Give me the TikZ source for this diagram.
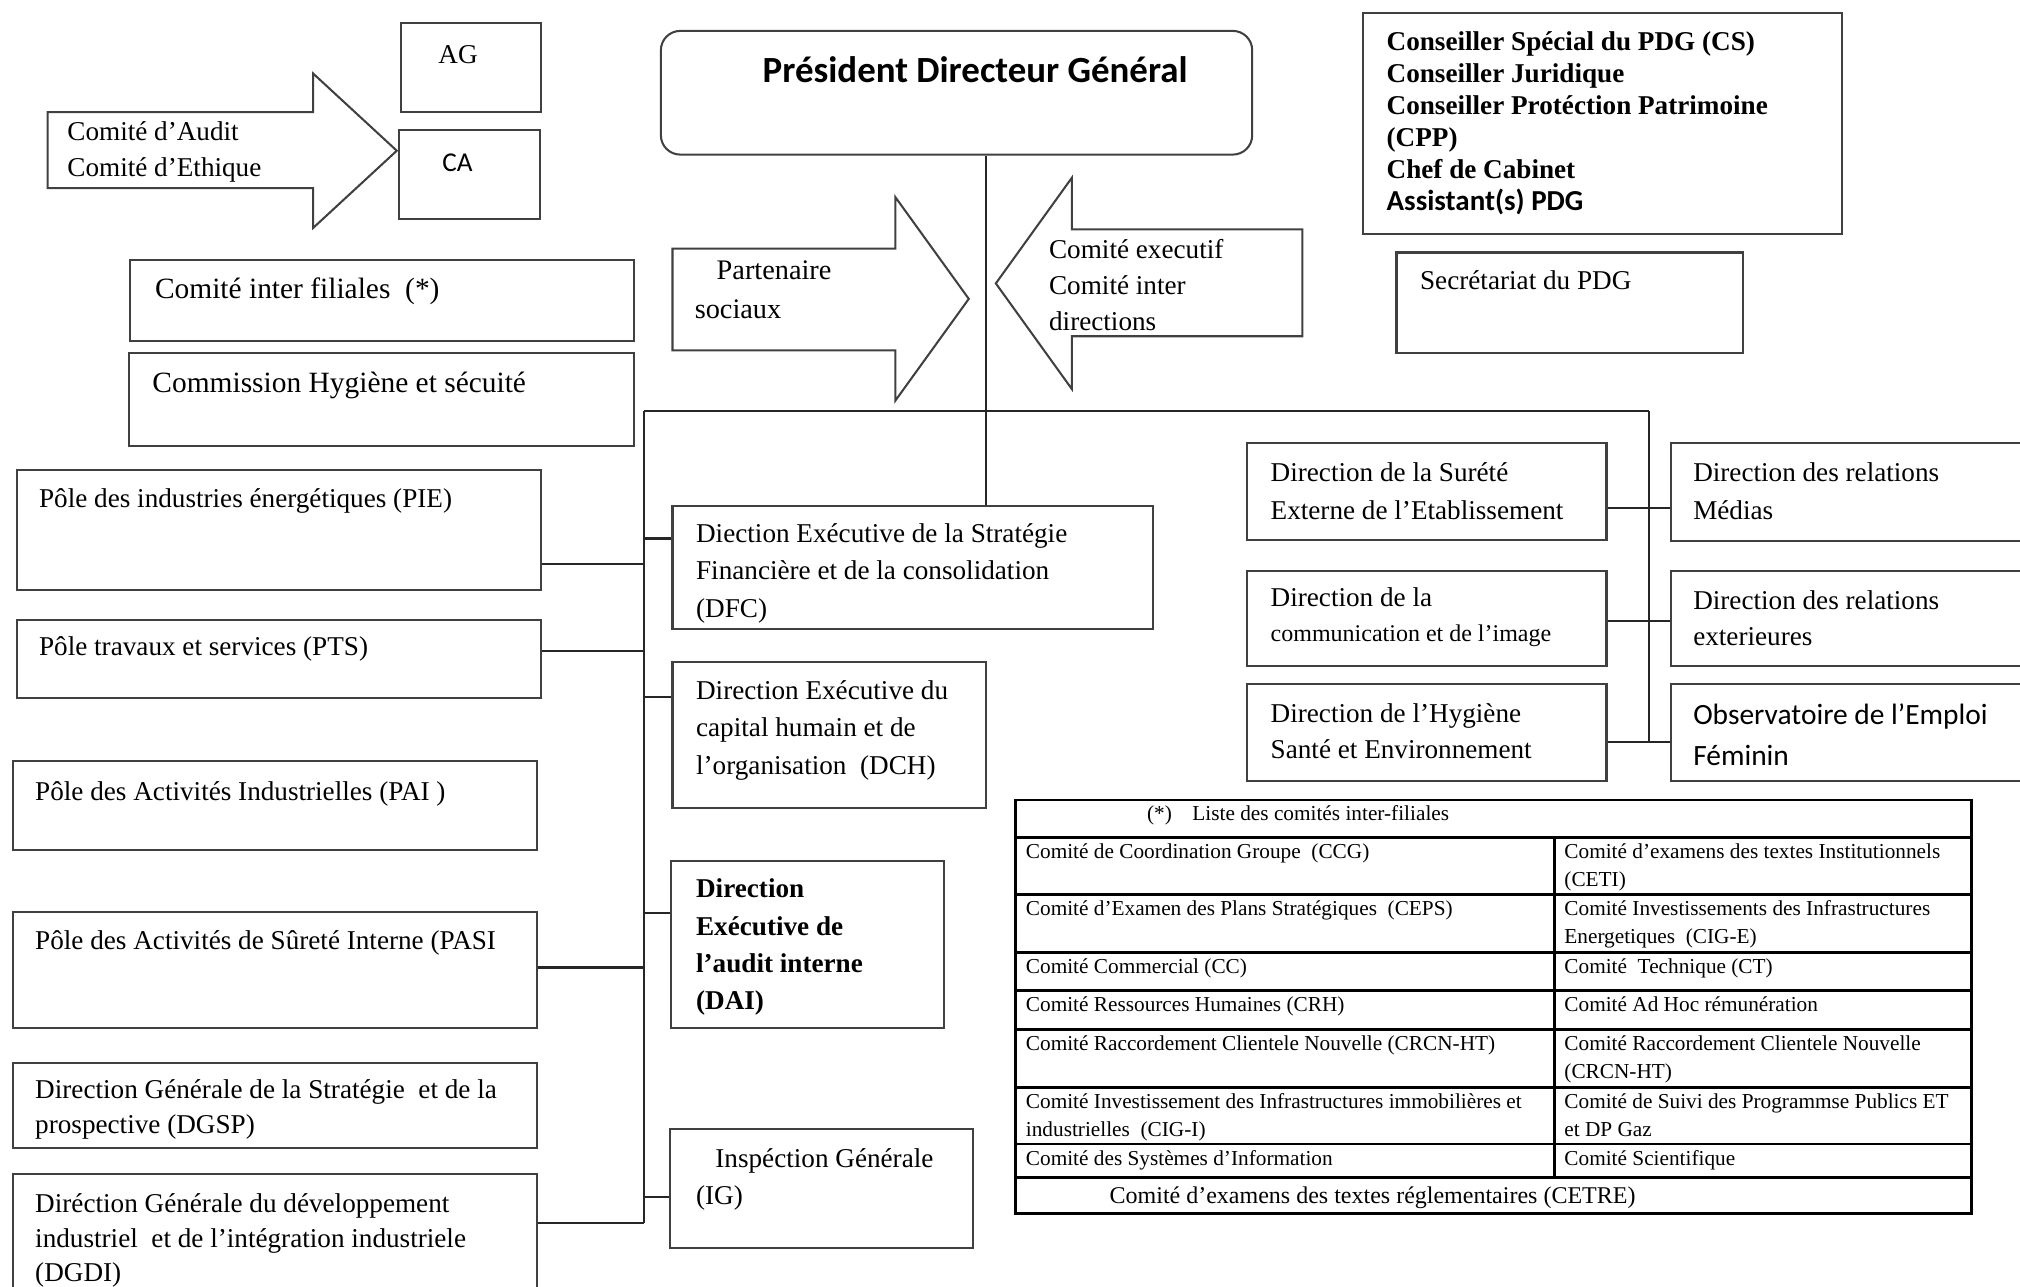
\documentclass[tikz,border=0pt]{standalone}
\usepackage{fontspec}
\setmainfont{Liberation Serif}
\newfontfamily\calib{Carlito}
\usetikzlibrary{fit}
\colorlet{boxgray}{black!75}
\colorlet{linkgray}{black!85}
\newcommand\lines[1]{\begin{tabular}[t]{@{}l@{}}#1\end{tabular}}

\tikzset{
  orgbox/.style={draw=boxgray, line width=0.9pt, inner sep=0pt},
  bigarrow/.style={draw=boxgray, line width=0.9pt},
  txt/.style={inner sep=0pt, anchor=base west, font=\fontsize{12}{16.5}\selectfont},
  link/.style={draw=linkgray, line width=0.9pt},
  tabline/.style={draw=black, line width=1.3pt},
  cell/.style={inner sep=0pt, anchor=base west, font=\fontsize{9.4}{12.5}\selectfont},
}

\begin{document}
\begin{tikzpicture}[x=0.2mm, y=-0.2mm]
\useasboundingbox (0,0) rectangle (1568,999);

% AG, CA and the audit committees
\node[orgbox, fit={(311,18)(420,87)}] (ag) {};
\node[txt] (ag-t) at (340,49) {AG};
\node[orgbox, fit={(310,101)(419,170)}] (ca) {};
\node[txt, font=\calib\fontsize{12}{14}\selectfont] (ca-t) at (343,133) {CA};
\draw[bigarrow] (37,87) -- (243,87) -- (243,57) -- (308,117) -- (243,177) -- (243,146) -- (37,146) -- cycle;
\node[txt, font=\fontsize{12}{15.9}\selectfont] (audit-t) at (52,109) {\lines{Comité d’Audit\\Comité d’Ethique}};

\node[orgbox, fit={(101,202)(492,265)}] (cif) {};
\node[txt, font=\fontsize{13}{16}\selectfont] (cif-t) at (120,232) {Comité inter filiales\ \ (*)};
\node[orgbox, fit={(100,274)(492,346)}] (chs) {};
\node[txt, font=\fontsize{13}{16}\selectfont] (chs-t) at (118,305) {Commission Hygiène et sécuité};

% PDG and his staff
\node[orgbox, rounded corners=3mm, fit={(513,24)(972,120)}] (pdg) {};
\node[txt, anchor=base, font=\calib\bfseries\fontsize{16.3}{20}\selectfont] (pdg-t) at (757,64) {Président Directeur Général};

\node[orgbox, fit={(1058,10)(1430,182)}] (cons) {};
\node[txt, font=\bfseries\fontsize{12}{14.2}\selectfont] (cons-t) at (1076,39)
  {\lines{Conseiller Spécial du PDG (CS)\\Conseiller Juridique\\Conseiller Protéction Patrimoine\\(CPP)\\Chef de Cabinet\\{\calib\fontsize{12.8}{14.2}\selectfont Assistant(s) PDG}}};
\node[orgbox, fit={(1084,196)(1353,274)}] (secr) {};
\node[txt] (secr-t) at (1102,225) {Secrétariat du PDG};

% arrows on both sides of the PDG line
\draw[bigarrow] (522,193) -- (695,193) -- (695,153) -- (752,232) -- (695,311) -- (695,272) -- (522,272) -- cycle;
\node[txt, font=\fontsize{12.5}{17}\selectfont] (part-t) at (539,217) {\lines{\hspace{3.4mm}Partenaire\\sociaux}};
\draw[bigarrow] (1011,178) -- (832,178) -- (832,138) -- (773,220) -- (832,302) -- (832,261) -- (1011,261) -- cycle;
\node[txt, font=\fontsize{12}{15.9}\selectfont] (comex-t) at (814,201) {\lines{Comité executif\\Comité inter\\directions}};

% executive directions
\node[orgbox, fit={(522,393)(895,488)}] (dfc) {};
\node[txt] (dfc-t) at (540,421) {\lines{Diection Exécutive de la Stratégie\\Financière et de la consolidation\\(DFC)}};
\node[orgbox, fit={(522,514)(765,627)}] (dch) {};
\node[txt] (dch-t) at (540,543) {\lines{Direction Exécutive du\\capital humain et de\\l’organisation\ \ (DCH)}};
\node[orgbox, fit={(521,668)(733,798)}] (dai) {};
\node[txt, font=\bfseries\fontsize{12}{16.5}\selectfont] (dai-t) at (540,697) {\lines{Direction\\Exécutive de\\l’audit interne\\(DAI)}};
\node[orgbox, fit={(520,876)(755,969)}] (ig) {};
\node[txt] (ig-t) at (540,906) {\lines{\hspace{3mm}Inspéction Générale\\(IG)}};

% poles and general directions
\node[orgbox, fit={(13,365)(420,458)}] (pie) {};
\node[txt] (pie-t) at (30,394) {Pôle des industries énergétiques (PIE)};
\node[orgbox, fit={(13,481)(420,542)}] (pts) {};
\node[txt] (pts-t) at (30,509) {Pôle travaux et services (PTS)};
\node[orgbox, fit={(10,591)(417,660)}] (pai) {};
\node[txt] (pai-t) at (27,621) {Pôle des Activités Industrielles (PAI )};
\node[orgbox, fit={(10,708)(417,798)}] (pasi) {};
\node[txt] (pasi-t) at (27,737) {Pôle des Activités de Sûreté Interne (PASI};
\node[orgbox, fit={(10,825)(417,891)}] (dgsp) {};
\node[txt, font=\fontsize{12}{15.4}\selectfont] (dgsp-t) at (27,853) {\lines{Direction Générale de la Stratégie\ \ et de la\\prospective (DGSP)}};
\node[orgbox, fit={(10,911)(417,1010)}] (dgdi) {};
\node[txt, font=\fontsize{12}{15.4}\selectfont] (dgdi-t) at (27,941) {\lines{Diréction Générale du développement\\industriel\ \ et de l’intégration industriele\\(DGDI)}};

% directions on the right
\node[orgbox, fit={(968,344)(1247,419)}] (dse) {};
\node[txt] (dse-t) at (986,374) {\lines{Direction de la Surété\\Externe de l’Etablissement}};
\node[orgbox, fit={(968,443)(1247,517)}] (dci) {};
\node[txt, font=\fontsize{12}{15.4}\selectfont] (dci-t) at (986,471) {\lines{Direction de la\\{\fontsize{10.6}{15.4}\selectfont communication et de l’image}}};
\node[orgbox, fit={(968,531)(1247,606)}] (dhse) {};
\node[txt, font=\fontsize{12}{16}\selectfont] (dhse-t) at (986,561) {\lines{Direction de l’Hygiène\\Santé et Environnement}};
\node[orgbox, fit={(1297,344)(1580,420)}] (drm) {};
\node[txt] (drm-t) at (1314,374) {\lines{Direction des relations\\Médias}};
\node[orgbox, fit={(1297,443)(1580,517)}] (dre) {};
\node[txt, font=\fontsize{12}{16}\selectfont] (dre-t) at (1314,473) {\lines{Direction des relations\\exterieures}};
\node[orgbox, fit={(1297,531)(1580,606)}] (ofe) {};
\node[txt, font=\calib\fontsize{13}{18.2}\selectfont] (ofe-t) at (1314,562) {\lines{Observatoire de l’Emploi\\Féminin}};

% links
\coordinate (busL) at (500,319);
\coordinate (busT) at (765,319);
\coordinate (busR) at (1280,319);
\draw[link] (busL) -- (busR);
\draw[link] (pdg.south -| busT) -- (dfc.north -| busT);
\foreach \n/\y in {pie/438,pts/505,pasi/751,dgdi/949}{
  \coordinate (j-\n) at (500,\y);
  \draw[link] (\n.east |- j-\n) -- (j-\n);
}
\foreach \n/\y in {dfc/418,dch/541,dai/709,ig/929}{
  \coordinate (j-\n) at (500,\y);
  \draw[link] (j-\n) -- (\n.west |- j-\n);
}
\draw[link] (busL) -- (j-dgdi);
\foreach \l/\r/\y in {dse/drm/394,dci/dre/482,dhse/ofe/576}{
  \coordinate (j-\l) at (1280,\y);
  \draw[link] (\l.east |- j-\l) -- (\r.west |- j-\l);
}
\draw[link] (busR) -- (j-dhse);

% (*) list of the inter-filiales committees
\node[fit={(788,621)(1530,942)}, tabline, inner sep=0pt] (tbl) {};
\foreach \y in {650,694,739,769,799,844,888,914}
  \draw[tabline] (tbl.west |- 0,\y) -- (tbl.east |- 0,\y);
\draw[tabline] (1207,650) -- (1207,914);
\node[cell] (tbl-h) at (890,637) {(*)\hspace{3.2mm}Liste des comités inter-filiales};
\foreach \y/\a/\b in {
  650/{Comité de Coordination Groupe\ \ (CCG)}/{Comité d’examens des textes Institutionnels\\(CETI)},
  694/{Comité d’Examen des Plans Stratégiques\ \ (CEPS)}/{Comité Investissements des Infrastructures\\Energetiques\ \ (CIG-E)},
  739/{Comité Commercial (CC)}/{Comité\ \ Technique (CT)},
  769/{Comité Ressources Humaines (CRH)}/{Comité Ad Hoc rémunération},
  799/{Comité Raccordement Clientele Nouvelle (CRCN-HT)}/{Comité Raccordement Clientele Nouvelle\\(CRCN-HT)},
  844/{Comité Investissement des Infrastructures immobilières et\\industrielles\ \ (CIG-I)}/{Comité de Suivi des Programmse Publics ET\\et DP Gaz},
  888/{Comité des Systèmes d’Information}/{Comité Scientifique}}{
  \node[cell] (cl-\y) at (796,\y+16.5) {\lines{\a}};
  \node[cell] (cr-\y) at (1214,\y+16.5) {\lines{\b}};
}
\node[cell, font=\fontsize{10.6}{13}\selectfont] (tbl-f) at (861,934) {Comité d’examens des textes réglementaires (CETRE)};
\end{tikzpicture}
\end{document}
